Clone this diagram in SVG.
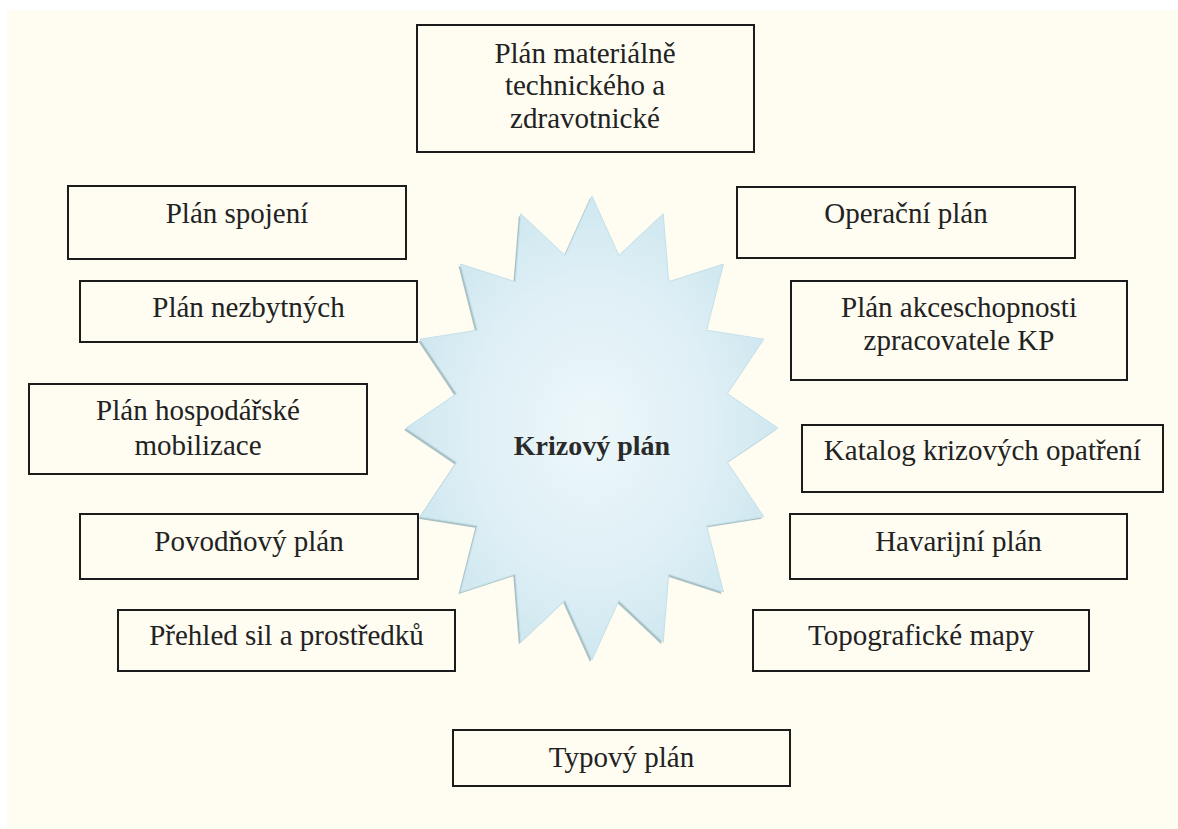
<svg xmlns="http://www.w3.org/2000/svg" width="1178" height="829" viewBox="0 0 1178 829">
  <style>
    .box { fill: #fffdf2; stroke: #1c1c1c; stroke-width: 2; }
    .lbl { font-family: "Liberation Serif", "Times New Roman", serif; font-size: 29px; fill: #222; text-anchor: middle; }
    .center { font-family: "Liberation Serif", "Times New Roman", serif; font-size: 28px; font-weight: bold; fill: #2a2a2a; text-anchor: middle; }
  </style>
  <defs>
    <radialGradient id="starFill" cx="0.5" cy="0.5" r="0.55">
      <stop offset="0" stop-color="#edf7fa"/>
      <stop offset="0.6" stop-color="#deeff5"/>
      <stop offset="1" stop-color="#cbe5ee"/>
    </radialGradient>
    <polygon id="starShape" points="592,196 618.9,255.4 663.2,213.7 668.7,281.7 723.5,264 706.7,330.2 763.8,339.2 727.4,393.7 778,428 727.4,462.3 763.8,516.8 706.7,525.8 723.5,592 668.7,574.3 663.2,642.3 618.9,600.6 592,660 565.1,600.6 520.8,642.3 515.3,574.3 460.5,592 477.3,525.8 420.2,516.8 456.6,462.3 406,428 456.6,393.7 420.2,339.2 477.3,330.2 460.5,264 515.3,281.7 520.8,213.7 565.1,255.4"/>
  </defs>
  <rect x="0" y="0" width="1178" height="829" fill="#ffffff"/>
  <rect x="7" y="10" width="1171" height="819" fill="#fffdf2"/>

  <g id="node-center">
    <use href="#starShape" transform="translate(-2,2)" fill="#8fadb5" opacity="0.75"/>
    <use href="#starShape" fill="url(#starFill)" stroke="#c4e0ea" stroke-width="1"/>
    <text class="center" x="592" y="455">Krizový plán</text>
  </g>

  <g id="connectors"></g>

  <g id="node-material">
    <rect class="box" x="417" y="25" width="337" height="127"/>
    <text class="lbl" x="585" y="63">Plán materiálně</text>
    <text class="lbl" x="585" y="95">technického a</text>
    <text class="lbl" x="585" y="128">zdravotnické</text>
  </g>

  <g id="node-spojeni">
    <rect class="box" x="68" y="186" width="338" height="73"/>
    <text class="lbl" x="237" y="223">Plán spojení</text>
  </g>

  <g id="node-nezbytnych">
    <rect class="box" x="80" y="281" width="337" height="61"/>
    <text class="lbl" x="248.5" y="317">Plán nezbytných</text>
  </g>

  <g id="node-hospodarske">
    <rect class="box" x="29" y="384" width="338" height="90"/>
    <text class="lbl" x="198" y="420">Plán hospodářské</text>
    <text class="lbl" x="198" y="455">mobilizace</text>
  </g>

  <g id="node-povodnovy">
    <rect class="box" x="80" y="514" width="338" height="65"/>
    <text class="lbl" x="249" y="551">Povodňový plán</text>
  </g>

  <g id="node-prehled">
    <rect class="box" x="118" y="610" width="337" height="61"/>
    <text class="lbl" x="286.5" y="645">Přehled sil a prostředků</text>
  </g>

  <g id="node-operacni">
    <rect class="box" x="737" y="187" width="338" height="71"/>
    <text class="lbl" x="906" y="223">Operační plán</text>
  </g>

  <g id="node-akceschopnosti">
    <rect class="box" x="791" y="281" width="336" height="99"/>
    <text class="lbl" x="959" y="317">Plán akceschopnosti</text>
    <text class="lbl" x="959" y="350">zpracovatele KP</text>
  </g>

  <g id="node-katalog">
    <rect class="box" x="802" y="425" width="361" height="67"/>
    <text class="lbl" x="982.5" y="460">Katalog krizových opatření</text>
  </g>

  <g id="node-havarijni">
    <rect class="box" x="790" y="514" width="337" height="65"/>
    <text class="lbl" x="958.5" y="551">Havarijní plán</text>
  </g>

  <g id="node-topograficke">
    <rect class="box" x="753" y="610" width="336" height="61"/>
    <text class="lbl" x="921" y="645">Topografické mapy</text>
  </g>

  <g id="node-typovy">
    <rect class="box" x="453" y="730" width="337" height="56"/>
    <text class="lbl" x="621.5" y="767">Typový plán</text>
  </g>
</svg>
